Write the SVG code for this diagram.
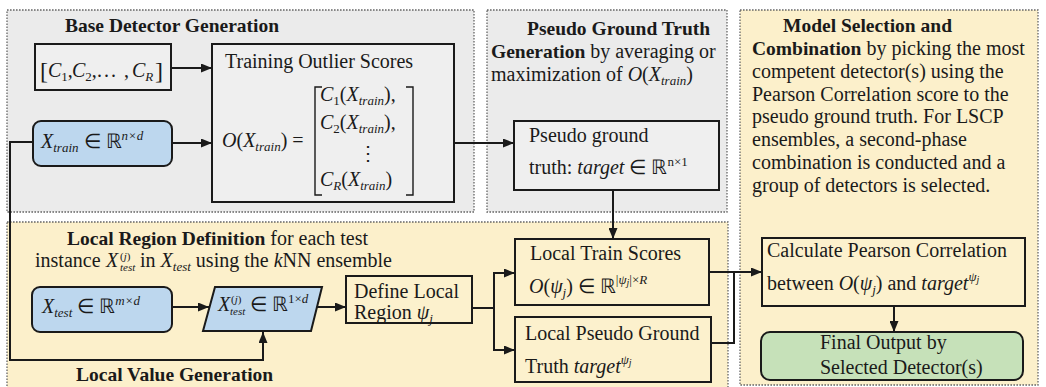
<svg xmlns="http://www.w3.org/2000/svg" width="1046" height="387" viewBox="0 0 1046 387">
<style>
.t{font-family:"Liberation Serif","Times New Roman",serif;font-size:20px;fill:#1a1a1a}
.b{font-weight:bold;font-size:19.5px}
.i{font-style:italic}
.sm{font-size:13px}
.ss{font-size:11px}
.xs{font-size:10px}
.big{font-size:24px}
.region{stroke:#666;stroke-width:1.3;stroke-dasharray:1.6 1.4}
.gray{fill:#ebebeb}
.yel{fill:#fcf0cb}
.node{stroke:#1a1a1a;stroke-width:2}
.ng{fill:#efefef}
.ny{fill:#fcf1cd}
.nb{fill:#bdd7ee}
.ngr{fill:#c6e1b9}
.c{fill:none;stroke:#1a1a1a;stroke-width:2}
.br{fill:none;stroke:#1a1a1a;stroke-width:1.4}
</style>
<defs>
<marker id="arr" markerUnits="userSpaceOnUse" markerWidth="11" markerHeight="9" refX="11" refY="4.5" orient="auto">
<path d="M0,0 L11,4.5 L0,9 z" fill="#1a1a1a"/>
</marker>
</defs>
<rect width="1046" height="387" fill="#ffffff"/>

<g id="regions">
<rect id="base-region" class="region gray" x="7" y="10" width="467" height="202"/>
<rect id="pseudo-region" class="region gray" x="487" y="10" width="240" height="202"/>
<rect id="model-region" class="region yel" x="740" y="10" width="298" height="375"/>
<rect id="local-region" class="region yel" x="7" y="222" width="721" height="168"/>
</g>

<g id="region-labels">
<text class="t b" x="65" y="32">Base Detector Generation</text>
<text class="t b" x="527" y="35">Pseudo Ground Truth</text>
<text class="t" x="491" y="58"><tspan class="b">Generation</tspan> by averaging or</text>
<text class="t" x="491" y="81">maximization of <tspan class="i">O</tspan>(<tspan class="i">X</tspan><tspan class="i sm" dy="4">train</tspan><tspan dy="-4">)</tspan></text>
<text class="t b" x="783" y="32">Model Selection and</text>
<text class="t" x="752" y="55"><tspan class="b">Combination</tspan> by picking the most</text>
<text class="t" x="752" y="78">competent detector(s) using the</text>
<text class="t" x="752" y="101">Pearson Correlation score to the</text>
<text class="t" x="752" y="123">pseudo ground truth. For LSCP</text>
<text class="t" x="752" y="146">ensembles, a second-phase</text>
<text class="t" x="752" y="169">combination is conducted and a</text>
<text class="t" x="752" y="192">group of detectors is selected.</text>
<text class="t" x="67" y="245"><tspan class="b">Local Region Definition</tspan> for each test</text>
<text class="t" x="35" y="267">instance <tspan class="i" x="106">X</tspan><tspan class="ss" x="120" y="260">(<tspan class="i">j</tspan>)</tspan><tspan class="i ss" x="120" y="271">test</tspan><tspan x="140" y="267">in </tspan><tspan class="i">X</tspan><tspan class="i sm" dy="4">test</tspan><tspan dy="-4"> using the </tspan><tspan class="i">k</tspan>NN ensemble</text>
<text class="t b" x="76" y="381">Local Value Generation</text>
</g>

<g id="connectors">
<path class="c" d="M171,68 H212" marker-end="url(#arr)"/>
<path class="c" d="M172,143 H212" marker-end="url(#arr)"/>
<path class="c" d="M454,143 H514" marker-end="url(#arr)"/>
<path class="c" d="M613,190 V239" marker-end="url(#arr)"/>
<path class="c" d="M33,142 H10 V360 H263 V332" marker-end="url(#arr)"/>
<path class="c" d="M172,307 H209" marker-end="url(#arr)"/>
<path class="c" d="M317,307 H346" marker-end="url(#arr)"/>
<path class="c" d="M472,308 H494 V273 H515" marker-end="url(#arr)"/>
<path class="c" d="M494,308 V350 H515" marker-end="url(#arr)"/>
<path class="c" d="M709,272 H762" marker-end="url(#arr)"/>
<path class="c" d="M711,343 H734 V272"/>
<path class="c" d="M894,306 V332" marker-end="url(#arr)"/>
</g>

<g id="n-classifiers">
<rect class="node ng" x="35" y="44" width="136" height="46"/>
<text class="t" x="40" y="79"><tspan class="big">[</tspan><tspan class="i" x="48" y="77">C</tspan><tspan class="sm" dy="4">1</tspan><tspan dy="-4">,</tspan><tspan class="i" x="72">C</tspan><tspan class="sm" dy="4">2</tspan><tspan dy="-4">,</tspan><tspan x="97" letter-spacing="2">...</tspan><tspan x="124">,</tspan><tspan class="i" x="132">C</tspan><tspan class="i sm" dy="4">R</tspan><tspan class="big" x="155" y="79">]</tspan></text>
</g>

<g id="n-training-scores">
<rect class="node ng" x="212" y="44" width="242" height="158"/>
<text class="t" x="225" y="68">Training Outlier Scores</text>
<text class="t" x="222" y="147"><tspan class="i">O</tspan>(<tspan class="i">X</tspan><tspan class="i sm" dy="4">train</tspan><tspan dy="-4">) =</tspan></text>
<path class="br" d="M322,87 H315 V195 H322"/>
<path class="br" d="M406,87 H413 V195 H406"/>
<text class="t" x="320" y="101"><tspan class="i">C</tspan><tspan class="sm" dy="4">1</tspan><tspan dy="-4">(</tspan><tspan class="i">X</tspan><tspan class="i sm" dy="4">train</tspan><tspan dy="-4">),</tspan></text>
<text class="t" x="320" y="129"><tspan class="i">C</tspan><tspan class="sm" dy="4">2</tspan><tspan dy="-4">(</tspan><tspan class="i">X</tspan><tspan class="i sm" dy="4">train</tspan><tspan dy="-4">),</tspan></text>
<text class="t" x="358" y="160">⋮</text>
<text class="t" x="320" y="186"><tspan class="i">C</tspan><tspan class="i sm" dy="4">R</tspan><tspan dy="-4">(</tspan><tspan class="i">X</tspan><tspan class="i sm" dy="4">train</tspan><tspan dy="-4">)</tspan></text>
</g>

<g id="n-xtrain">
<rect class="node nb" x="33" y="121" width="139" height="45" rx="8"/>
<text class="t" x="41" y="148"><tspan class="i">X</tspan><tspan class="i sm" dy="4">train</tspan><tspan dy="-4"> ∈ ℝ</tspan><tspan class="i sm" dy="-8">n×d</tspan></text>
</g>

<g id="n-pseudo-ground">
<rect class="node ng" x="514" y="121" width="205" height="69"/>
<text class="t" x="529" y="142">Pseudo ground</text>
<text class="t" x="529" y="174">truth: <tspan class="i">target</tspan> ∈ ℝ<tspan class="sm" dy="-8">n×1</tspan></text>
</g>

<g id="n-xtest">
<rect class="node nb" x="32" y="287" width="140" height="45" rx="8"/>
<text class="t" x="42" y="313"><tspan class="i">X</tspan><tspan class="i sm" dy="4">test</tspan><tspan dy="-4"> ∈ ℝ</tspan><tspan class="i sm" dy="-8">m×d</tspan></text>
</g>

<g id="n-xtest-j">
<polygon class="node nb" points="215,287 322,287 311,331 203,331"/>
<text class="t" x="218" y="311"><tspan class="i">X</tspan><tspan class="ss" x="231" y="303">(<tspan class="i">j</tspan>)</tspan><tspan class="i ss" x="230" y="315">test</tspan><tspan x="250" y="311">∈ ℝ</tspan><tspan class="sm" dy="-8">1×<tspan class="i">d</tspan></tspan></text>
</g>

<g id="n-define-local">
<rect class="node ny" x="346" y="276" width="126" height="47"/>
<text class="t" x="354" y="298">Define Local</text>
<text class="t" x="354" y="319">Region <tspan class="i">ψ</tspan><tspan class="i sm" dy="4">j</tspan></text>
</g>

<g id="n-local-train">
<rect class="node ny" x="515" y="239" width="194" height="66"/>
<text class="t" x="530" y="260">Local Train Scores</text>
<text class="t" x="529" y="293"><tspan class="i">O</tspan>(<tspan class="i">ψ</tspan><tspan class="i sm" dy="4">j</tspan><tspan dy="-4">) ∈ ℝ</tspan><tspan class="sm" dy="-9">|<tspan class="i">ψ</tspan><tspan class="i xs" dy="2">j</tspan><tspan dy="-2">|×</tspan><tspan class="i">R</tspan></tspan></text>
</g>

<g id="n-local-pseudo">
<rect class="node ny" x="515" y="317" width="196" height="65"/>
<text class="t" x="525" y="340">Local Pseudo Ground</text>
<text class="t" x="525" y="373">Truth <tspan class="i">target</tspan><tspan class="i sm" dy="-9">ψ</tspan><tspan class="i xs" dy="2">j</tspan></text>
</g>

<g id="n-pearson">
<rect class="node ny" x="762" y="238" width="263" height="68"/>
<text class="t" x="767" y="257">Calculate Pearson Correlation</text>
<text class="t" x="767" y="290">between <tspan class="i">O</tspan>(<tspan class="i">ψ</tspan><tspan class="i sm" dy="4">j</tspan><tspan dy="-4">) and </tspan><tspan class="i">target</tspan><tspan class="i sm" dy="-9">ψ</tspan><tspan class="i xs" dy="2">j</tspan></text>
</g>

<g id="n-final">
<rect class="node ngr" x="761" y="332" width="262" height="48" rx="9"/>
<text class="t" x="820" y="349">Final Output by</text>
<text class="t" x="820" y="374">Selected Detector(s)</text>
</g>
</svg>
